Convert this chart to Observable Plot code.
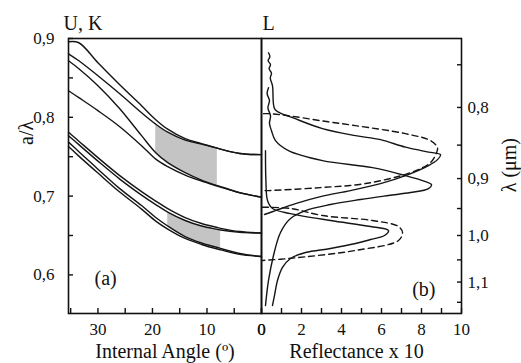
<!DOCTYPE html>
<html><head><meta charset="utf-8">
<script src="https://cdn.jsdelivr.net/npm/d3@7"></script>
<script src="https://cdn.jsdelivr.net/npm/@observablehq/plot@0.6"></script>
<style>
html,body{margin:0;padding:0;background:#fff;}
#wrap{position:relative;width:521px;height:363px;overflow:hidden;background:#fff;}
#wrap svg{position:absolute;top:0;}
#wrap svg text{font-family:"Liberation Serif","Times New Roman","DejaVu Serif",serif !important;}
</style></head><body><div id="wrap"></div>
<script>
// ---------- panel (a): photonic bands, a/λ vs internal angle ----------
const angle = [35.4, 33.5, 30, 26, 22, 19.4, 17.2, 14, 11, 8.1, 7.5, 4, 0];
const bandA = [0.8958, 0.8946, 0.8692, 0.8413, 0.8147, 0.7970, 0.7849, 0.7729, 0.7666, 0.7608, 0.7596, 0.7541, 0.7526];
const bandB = [0.8806, 0.8717, 0.8527, 0.8299, 0.8058, 0.7913, 0.7811, 0.7710, 0.7659, 0.7608, 0.7596, 0.7541, 0.7526];
const bandC = [0.8717, 0.8616, 0.8401, 0.8109, 0.7767, 0.7551, 0.7425, 0.7298, 0.7203, 0.7133, 0.7121, 0.7044, 0.6987];
const bandD = [0.8337, 0.8249, 0.8084, 0.7881, 0.7640, 0.7469, 0.7374, 0.7266, 0.7190, 0.7127, 0.7114, 0.7042, 0.6987];
const bandE = [0.7811, 0.7697, 0.7488, 0.7260, 0.7057, 0.6937, 0.6842, 0.6728, 0.6652, 0.6601, 0.6591, 0.6550, 0.6531];
const bandF = [0.7767, 0.7653, 0.7444, 0.7216, 0.7013, 0.6892, 0.6797, 0.6690, 0.6620, 0.6578, 0.6569, 0.6540, 0.6531];
const bandG = [0.7685, 0.7564, 0.7342, 0.7095, 0.6880, 0.6728, 0.6620, 0.6487, 0.6405, 0.6348, 0.6335, 0.6271, 0.6233];
const bandH = [0.7628, 0.7507, 0.7292, 0.7051, 0.6835, 0.6683, 0.6582, 0.6462, 0.6386, 0.6328, 0.6318, 0.6261, 0.6233];
// shaded angular windows (degrees)
const upperWindow = [8.1, 19.4];
const lowerWindow = [7.5, 17.2];

const angleMajor = [30, 20, 10, 0];
const angleMinor = [35, 25, 15, 5];
const aLamMajor = [0.6, 0.7, 0.8, 0.9];
const aLamMinor = [0.65, 0.75, 0.85];

// ---------- panel (b): reflectance spectra ----------
const latticeConst = 0.65; // μm, links a/λ to λ
const lambdaMajor = [0.8, 0.9, 1.0, 1.1];
const lambdaMinor = [0.75, 0.85, 0.95, 1.05, 1.15];
const reflMajor = [0, 2, 4, 6, 8, 10];
const reflMinor = [1, 3, 5, 7, 9];

// measured spectra (solid)
const meas1R = [0.35, 0.42, 0.33, 0.45, 0.38, 0.5, 0.44, 0.55, 0.65, 0.9, 1.55, 3.05, 4.7, 5.95, 7.2, 8.35, 8.95, 8.8, 8.35, 7.2, 5.95, 4.45, 2.95, 1.7, 0.7, 0.15];
const meas1Y = [0.8819, 0.8770, 0.8718, 0.8670, 0.8616, 0.8560, 0.8500, 0.8400, 0.8110, 0.8058, 0.7995, 0.7856, 0.7767, 0.7716, 0.7621, 0.7558, 0.7526, 0.7463, 0.7387, 0.7260, 0.7159, 0.7070, 0.6994, 0.6905, 0.6816, 0.6766];
const meas2R = [0.35, 0.28, 0.4, 0.32, 0.45, 0.4, 0.5, 0.7, 1.35, 3.05, 5.55, 7.2, 8.2, 8.5, 8.35, 7.45, 6.35, 4.95, 3.45, 2.2, 1.45, 0.95, 0.6, 0.35, 0.2];
const meas2Y = [0.8375, 0.8300, 0.8211, 0.8120, 0.8020, 0.7920, 0.7830, 0.7704, 0.7577, 0.7450, 0.7361, 0.7260, 0.7184, 0.7146, 0.7095, 0.7045, 0.7007, 0.6956, 0.6893, 0.6816, 0.6715, 0.6538, 0.6246, 0.5929, 0.5612];
const meas3R = [0.2, 0.22, 0.3, 0.55, 1.45, 3.45, 5.45, 6.35, 6.15, 5.45, 4.7, 3.45, 2.2, 1.45, 1.05, 0.8, 0.65, 0.55];
const meas3Y = [0.7577, 0.7197, 0.6943, 0.6842, 0.6778, 0.6690, 0.6614, 0.6563, 0.6500, 0.6449, 0.6398, 0.6335, 0.6284, 0.6208, 0.6094, 0.5929, 0.5739, 0.5612];
// calculated spectra (dashed)
const calc1R = [0.1, 0.35, 1.35, 2.95, 4.7, 7.2, 8.45, 8.8, 8.75, 8.45, 7.45, 5.2, 2.95, 0.35, 0.1];
const calc1Y = [0.8046, 0.8046, 0.8020, 0.7957, 0.7894, 0.7792, 0.7704, 0.7615, 0.7551, 0.7425, 0.7298, 0.7159, 0.7108, 0.7070, 0.7070];
const calc2R = [0.05, 1.45, 3.05, 5.55, 6.85, 7.05, 6.85, 4.7, 1.35, 0.05];
const calc2Y = [0.6858, 0.6843, 0.6753, 0.6690, 0.6614, 0.6538, 0.6437, 0.6310, 0.6208, 0.6183];

// ---------- build ----------
const FONT = "Liberation Serif, Times New Roman, DejaVu Serif, serif";
const bands = {A: bandA, B: bandB, C: bandC, D: bandD, E: bandE, F: bandF, G: bandG, H: bandH};
const bandRows = Object.entries(bands).flatMap(([k, vals]) => angle.map((a, i) => ({band: k, angle: a, v: vals[i]})));
const inWin = (w) => (a) => a >= w[0] - 1e-9 && a <= w[1] + 1e-9;
const upperShade = angle.map((a, i) => ({angle: a, lo: bandC[i], hi: bandB[i]})).filter(d => inWin(upperWindow)(d.angle));
const lowerShade = angle.map((a, i) => ({angle: a, lo: bandG[i], hi: bandF[i]})).filter(d => inWin(lowerWindow)(d.angle));

const pair = (name, R, Y) => R.map((r, i) => ({s: name, r, y: Y[i]}));
const solidRows = [...pair("m1", meas1R, meas1Y), ...pair("m2", meas2R, meas2Y), ...pair("m3", meas3R, meas3Y)];
const dashRows = [...pair("c1", calc1R, calc1Y), ...pair("c2", calc2R, calc2Y)];

const common = {height: 363, marginTop: 38, marginBottom: 50,
  style: {background: "transparent", overflow: "visible", fontFamily: FONT, fontSize: "17px", color: "black"}};
const yDom = [0.551, 0.9];
const blank = () => "";
const comma = (d) => d.toFixed(1).replace(".", ",");
const txt = {fontFamily: FONT, fill: "#111"};

const left = Plot.plot({
  ...common, width: 262, marginLeft: 68, marginRight: 1,
  x: {domain: [35.4, 0], axis: null},
  y: {domain: yDom, axis: null},
  marks: [
    Plot.areaY(upperShade, {x: "angle", y1: "lo", y2: "hi", fill: "#c4c4c4", curve: "catmull-rom"}),
    Plot.areaY(lowerShade, {x: "angle", y1: "lo", y2: "hi", fill: "#c4c4c4", curve: "catmull-rom"}),
    Plot.line(bandRows, {x: "angle", y: "v", z: "band", stroke: "#151515", strokeWidth: 1.4, curve: "catmull-rom"}),
    Plot.frame({stroke: "#111", strokeWidth: 1.6}),
    Plot.axisX([...angleMajor, ...angleMinor], {label: null, tickSize: 5, dy: -5, tickFormat: blank, stroke: "#111", strokeWidth: 1.4}),
    Plot.axisX(angleMajor, {label: null, tickSize: 0, tickPadding: 9, tickFormat: d => String(d), fontSize: 17, ...txt}),
    Plot.axisY([...aLamMajor, ...aLamMinor], {label: null, tickSize: 5, dx: 5, tickFormat: blank, stroke: "#111", strokeWidth: 1.4}),
    Plot.axisY(aLamMajor, {label: null, tickSize: 0, tickPadding: 14, tickFormat: comma, fontSize: 17, ...txt}),
    Plot.text(["U, K"], {frameAnchor: "top-left", dx: -5, dy: -15, textAnchor: "start", lineAnchor: "middle", fontSize: 20, ...txt}),
    Plot.text(["a/λ"], {frameAnchor: "left", dx: -42, dy: -31, rotate: -90, lineAnchor: "middle", fontSize: 20, ...txt}),
    Plot.text(["(a)"], {frameAnchor: "bottom-left", dx: 26, dy: -35, lineAnchor: "middle", fontSize: 20, ...txt}),
    Plot.text(["Internal Angle (º)"], {frameAnchor: "bottom", dy: 38, lineAnchor: "middle", fontSize: 20, ...txt})
  ]
});

const right = Plot.plot({
  ...common, width: 270, marginLeft: 10, marginRight: 60,
  x: {domain: [0, 10], axis: null},
  y: {domain: yDom, axis: null},
  marks: [
    Plot.line(dashRows, {x: "r", y: "y", z: "s", stroke: "#151515", strokeWidth: 1.4, strokeDasharray: "6,4", curve: "catmull-rom"}),
    Plot.line(solidRows, {x: "r", y: "y", z: "s", stroke: "#151515", strokeWidth: 1.4, curve: "catmull-rom"}),
    Plot.frame({stroke: "#111", strokeWidth: 1.6}),
    Plot.axisX([...reflMajor, ...reflMinor], {label: null, tickSize: 5, dy: -5, tickFormat: blank, stroke: "#111", strokeWidth: 1.4}),
    Plot.axisX(reflMajor, {label: null, tickSize: 0, tickPadding: 9, tickFormat: d => String(d), fontSize: 17, ...txt}),
    Plot.axisY([...lambdaMajor, ...lambdaMinor].map(l => latticeConst / l), {label: null, anchor: "right", tickSize: 5, dx: -5, tickFormat: blank, stroke: "#111", strokeWidth: 1.4}),
    Plot.axisY(lambdaMajor.map(l => latticeConst / l), {label: null, anchor: "right", tickSize: 0, tickPadding: 6, tickFormat: d => comma(latticeConst / d), fontSize: 17, ...txt}),
    Plot.text(["L"], {frameAnchor: "top-left", dx: 1, dy: -15, textAnchor: "start", lineAnchor: "middle", fontSize: 20, ...txt}),
    Plot.text(["λ (μm)"], {frameAnchor: "right", dx: 48, dy: -38, rotate: -90, lineAnchor: "middle", fontSize: 20, ...txt}),
    Plot.text(["(b)"], {frameAnchor: "bottom-right", dx: -26, dy: -24, lineAnchor: "middle", fontSize: 20, ...txt}),
    Plot.text(["Reflectance x 10"], {frameAnchor: "bottom", dx: -5, dy: 38, lineAnchor: "middle", fontSize: 20, ...txt})
  ]
});

left.style.left = "0px";
right.style.left = "251px";
const wrap = document.getElementById("wrap");
wrap.appendChild(left);
wrap.appendChild(right);
</script>
</body></html>
